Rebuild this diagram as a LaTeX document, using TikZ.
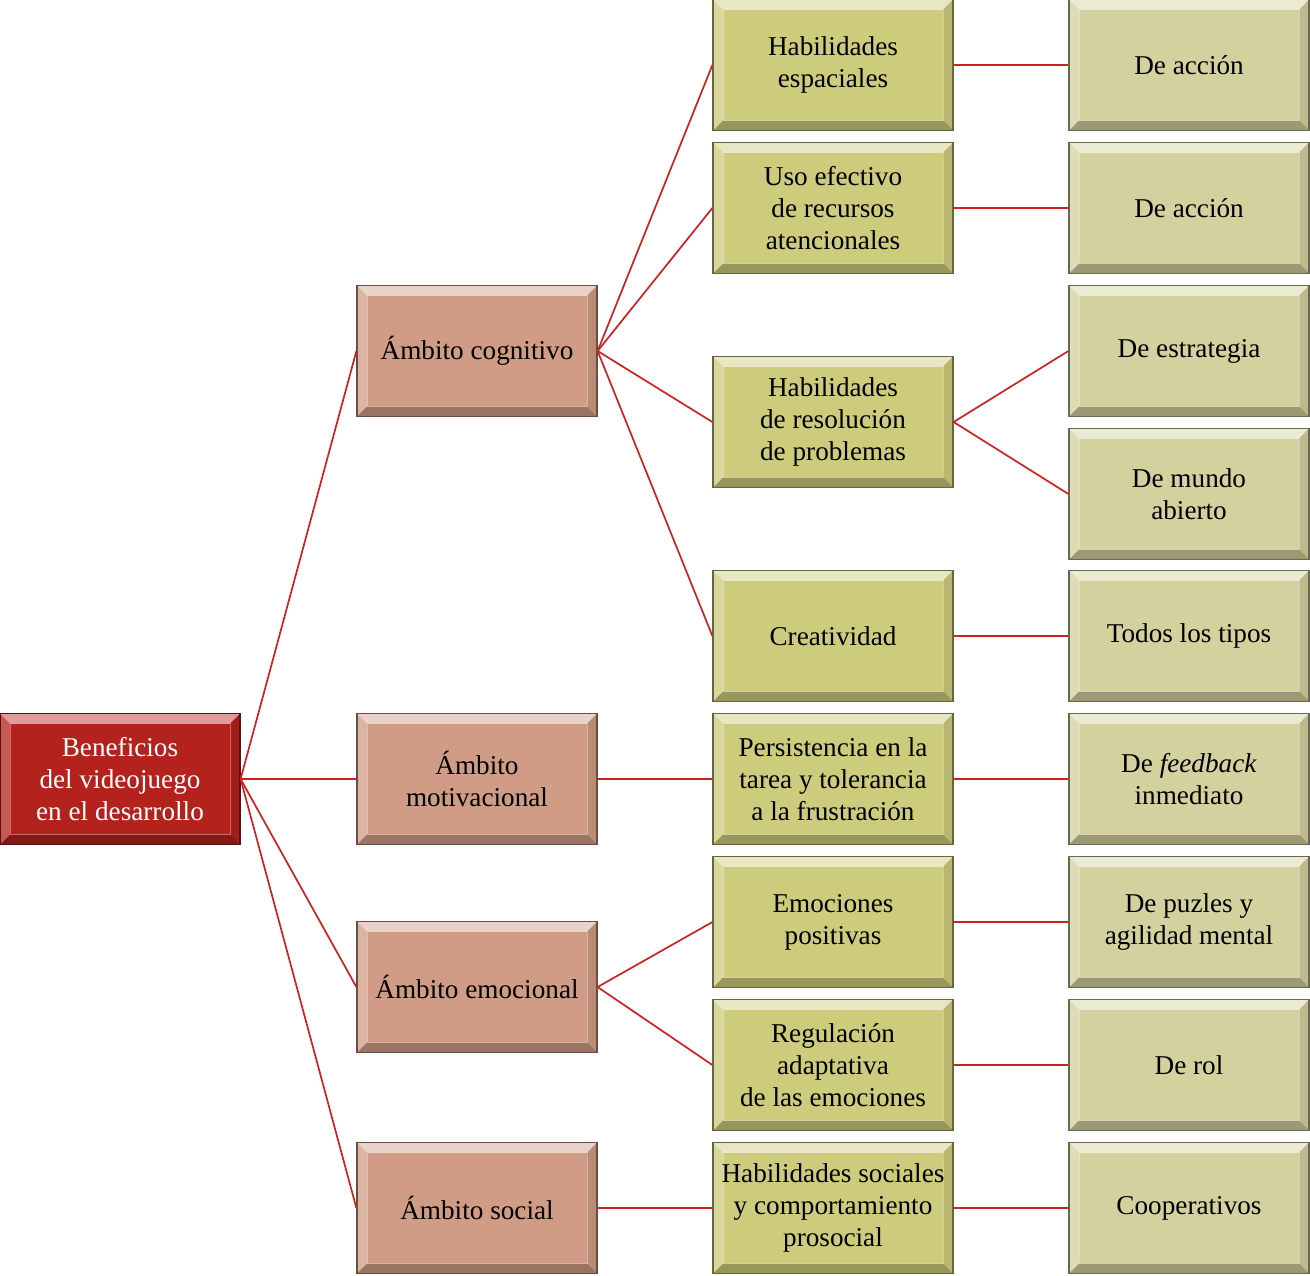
\documentclass[tikz,border=0pt]{standalone}
\usepackage{fontspec}
\setmainfont{Liberation Serif}
\definecolor{rootc}{RGB}{180,34,30}
\definecolor{salc}{RGB}{208,156,133}
\definecolor{olc}{RGB}{205,203,124}
\definecolor{palec}{RGB}{211,209,158}
\definecolor{linec}{RGB}{204,34,34}
\tikzset{
  bev/.style={draw=#1!50!black, line width=0.6pt, fill=#1,
    minimum width=120pt, minimum height=65.5pt, inner sep=0pt,
    align=center, font=\fontsize{13.6}{16}\selectfont,
    path picture={
      \path (path picture bounding box.north west) coordinate (pnw)
            (path picture bounding box.north east) coordinate (pne)
            (path picture bounding box.south east) coordinate (pse)
            (path picture bounding box.south west) coordinate (psw);
      \fill[white,opacity=.55] (pnw) -- (pne) -- ([shift={(-5pt,-5pt)}]pne) -- ([shift={(5pt,-5pt)}]pnw) -- cycle;
      \fill[white,opacity=.25] (pnw) -- ([shift={(5pt,-5pt)}]pnw) -- ([shift={(5pt,5pt)}]psw) -- (psw) -- cycle;
      \fill[black,opacity=.10] (pne) -- ([shift={(-5pt,-5pt)}]pne) -- ([shift={(-5pt,5pt)}]pse) -- (pse) -- cycle;
      \fill[black,opacity=.26] (psw) -- ([shift={(5pt,5pt)}]psw) -- ([shift={(-5pt,5pt)}]pse) -- (pse) -- cycle;
      \draw[white,opacity=.35,line width=0.4pt] ([shift={(5pt,-5pt)}]pnw) rectangle ([shift={(-5pt,5pt)}]pse);
    }},
  rootbox/.style={bev=rootc, text=white},
  salbox/.style={bev=salc},
  olbox/.style={bev=olc},
  palebox/.style={bev=palec},
  conn/.style={draw=linec, line width=0.85pt},
}
\begin{document}
\begin{tikzpicture}[x=0.5pt,y=-0.5pt]
\useasboundingbox[fill=white] (0,0) rectangle (1310,1275);
% root
\node[rootbox] (root) at (120,779) {Beneficios\\del videojuego\\en el desarrollo};
% level 1
\node[salbox] (cog) at (477,351) {Ámbito cognitivo};
\node[salbox] (mot) at (477,779) {Ámbito\\motivacional};
\node[salbox] (emo) at (477,987) {Ámbito emocional};
\node[salbox] (soc) at (477,1208) {Ámbito social};
% level 2
\node[olbox] (hesp) at (833,65) {Habilidades\\espaciales};
\node[olbox] (uso) at (833,208) {Uso efectivo\\de recursos\\atencionales};
\node[olbox] (hres) at (833,422) {Habilidades\\de resolución\\de problemas};
\node[olbox] (crea) at (833,636) {Creatividad};
\node[olbox] (pers) at (833,779) {Persistencia en la\\tarea y tolerancia\\a la frustración};
\node[olbox] (empo) at (833,922) {Emociones\\positivas};
\node[olbox] (reg) at (833,1065) {Regulación\\adaptativa\\de las emociones};
\node[olbox] (hsoc) at (833,1208) {Habilidades sociales\\y comportamiento\\prosocial};
% level 3
\node[palebox] (acc1) at (1189,65) {De acción};
\node[palebox] (acc2) at (1189,208) {De acción};
\node[palebox] (estr) at (1189,351) {De estrategia};
\node[palebox] (mund) at (1189,494) {De mundo\\abierto};
\node[palebox] (todo) at (1189,636) {Todos los tipos};
\node[palebox] (feed) at (1189,779) {De \textit{feedback}\\inmediato};
\node[palebox] (puz) at (1189,922) {De puzles y\\agilidad mental};
\node[palebox] (rol) at (1189,1065) {De rol};
\node[palebox] (coop) at (1189,1208) {Cooperativos};
% connectors
\foreach \t in {cog,mot,emo,soc} \draw[conn] (root.east) -- (\t.west);
\foreach \t in {hesp,uso,hres,crea} \draw[conn] (cog.east) -- (\t.west);
\draw[conn] (mot.east) -- (pers.west);
\draw[conn] (emo.east) -- (empo.west);
\draw[conn] (emo.east) -- (reg.west);
\draw[conn] (soc.east) -- (hsoc.west);
\draw[conn] (hesp.east) -- (acc1.west);
\draw[conn] (uso.east) -- (acc2.west);
\draw[conn] (hres.east) -- (estr.west);
\draw[conn] (hres.east) -- (mund.west);
\draw[conn] (crea.east) -- (todo.west);
\draw[conn] (pers.east) -- (feed.west);
\draw[conn] (empo.east) -- (puz.west);
\draw[conn] (reg.east) -- (rol.west);
\draw[conn] (hsoc.east) -- (coop.west);
\end{tikzpicture}
\end{document}
